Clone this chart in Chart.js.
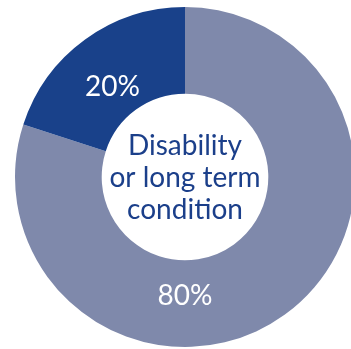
<!DOCTYPE html>
<html>
<head>
<meta charset="utf-8">
<script src="https://cdn.jsdelivr.net/npm/chart.js@4/dist/chart.umd.min.js"></script>
<style>
  html, body { margin: 0; padding: 0; background: #fff; overflow: hidden; width: 351px; height: 349px; }
  #wrap { position: relative; width: 351px; height: 349px; overflow: hidden; }
  #chart { position: absolute; left: 0; top: -8px; }
</style>
</head>
<body>
<div id="wrap">
  <canvas id="chart" width="370" height="370"></canvas>
</div>
<script>
const categories = ["No disability or long term condition", "Disability or long term condition"];
const shares = [80, 20];
const sliceColors = ["#7f89ab", "#19418a"];
const centerLines = ["Disability", "or long term", "condition"];

const FONT = "Lato, 'Open Sans', sans-serif";

// percent labels inside the ring, plus the caption in the hole
const ringLabels = {
  id: "ringLabels",
  afterDatasetsDraw(chart, args, opts) {
    const ctx = chart.ctx;
    const meta = chart.getDatasetMeta(0);
    ctx.save();
    ctx.textAlign = "center";
    ctx.textBaseline = "middle";

    meta.data.forEach((arc, i) => {
      const p = arc.getProps(["x", "y", "startAngle", "endAngle", "innerRadius", "outerRadius"], true);
      const angle = opts.angles[i] != null ? opts.angles[i] : (p.startAngle + p.endAngle) / 2 - 0.05;
      const r = (p.innerRadius + p.outerRadius) / 2 + opts.shift[i];
      ctx.font = "400 28px " + FONT;
      ctx.fillStyle = "#ffffff";
      ctx.fillText(shares[i] + "%", p.x + Math.cos(angle) * r, p.y + Math.sin(angle) * r);
    });

    const c = meta.data[0];
    ctx.font = "400 28px " + FONT;
    ctx.fillStyle = "#1b3f8a";
    const lh = 32;
    centerLines.forEach((line, i) => {
      ctx.fillText(line, c.x, c.y + (i - (centerLines.length - 1) / 2) * lh + 1);
    });
    ctx.restore();
  }
};

new Chart(document.getElementById("chart"), {
  type: "doughnut",
  data: {
    labels: categories,
    datasets: [{
      data: shares,
      backgroundColor: sliceColors,
      borderWidth: 0,
      hoverOffset: 0,
      offset: 0
    }]
  },
  options: {
    responsive: false,
    animation: false,
    cutout: "49%",
    layout: { padding: 15 },
    events: [],
    plugins: {
      legend: { display: false },
      tooltip: { enabled: false },
      ringLabels: { angles: [Math.PI / 2, null], shift: [-8, -11] }
    }
  },
  plugins: [ringLabels]
});
</script>
</body>
</html>
